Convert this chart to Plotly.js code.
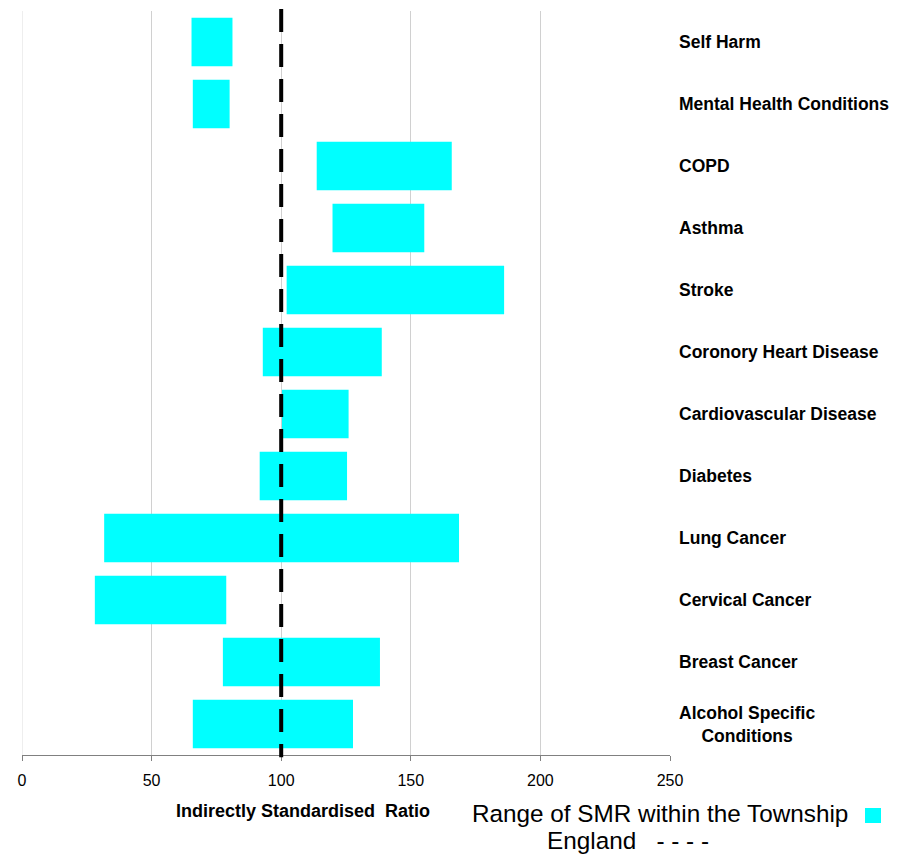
<!DOCTYPE html>
<html>
<head>
<meta charset="utf-8">
<script src="https://cdn.plot.ly/plotly-3.0.1.min.js"></script>
<style>html,body{margin:0;padding:0;background:#fff;}#chart{width:909px;height:854px;}</style>
</head>
<body>
<div id="chart"></div>
<script>
// Categories, top to bottom
var categories = [
  "Self Harm",
  "Mental Health Conditions",
  "COPD",
  "Asthma",
  "Stroke",
  "Coronory Heart Disease",
  "Cardiovascular Disease",
  "Diabetes",
  "Lung Cancer",
  "Cervical Cancer",
  "Breast Cancer",
  "Alcohol Specific<br>Conditions"
];
// Lowest and highest SMR within the Township
var smrLow  = [65.4, 65.9, 113.7, 119.8, 102.1, 92.9, 100.3, 91.7, 31.7, 28.1, 77.5, 65.9];
var smrHigh = [81.2, 80.1, 165.8, 155.2, 186.0, 138.8, 126.0, 125.4, 168.6, 78.8, 138.1, 127.7];
var englandValue = 100;
var xTickVals = [0, 50, 100, 150, 200, 250];
var xTitle = "Indirectly Standardised&nbsp; Ratio";
var legendBars = "Range of SMR within the Township";
var legendEngland = "England&nbsp;&nbsp; - - - -";

var FONT = "Liberation Sans, Arial, sans-serif";

var widths = smrHigh.map(function (h, i) { return h - smrLow[i]; });

var trace = {
  type: "bar",
  orientation: "h",
  y: categories,
  x: widths,
  base: smrLow,
  marker: { color: "#00FFFF", line: { width: 0 } },
  hoverinfo: "skip"
};

var annotations = categories.map(function (c) {
  return {
    xref: "paper", yref: "y",
    x: (677 - 22) / 648, y: c,
    xanchor: "left", yanchor: "middle",
    align: "center",
    text: "<b>" + c + "</b>",
    showarrow: false,
    font: { family: FONT, size: 17.5, color: "#000" }
  };
});

annotations.push({
  xref: "paper", yref: "paper",
  x: (303 - 22) / 648, y: (755 - 811) / 744,
  xanchor: "center", yanchor: "middle",
  text: "<b>" + xTitle + "</b>",
  showarrow: false,
  font: { family: FONT, size: 18, color: "#000" }
});
annotations.push({
  xref: "paper", yref: "paper",
  x: (470 - 22) / 648, y: (755 - 813) / 744,
  xanchor: "left", yanchor: "middle",
  text: legendBars,
  showarrow: false,
  font: { family: FONT, size: 24.3, color: "#000" }
});
annotations.push({
  xref: "paper", yref: "paper",
  x: (545 - 22) / 648, y: (755 - 841) / 744,
  xanchor: "left", yanchor: "middle",
  text: legendEngland,
  showarrow: false,
  font: { family: FONT, size: 24.3, color: "#000" }
});

var layout = {
  width: 909,
  height: 854,
  margin: { l: 22, r: 239, t: 11, b: 99, pad: 0 },
  paper_bgcolor: "#ffffff",
  plot_bgcolor: "#ffffff",
  showlegend: false,
  bargap: 0.215,
  xaxis: {
    range: [0, 250],
    tickvals: xTickVals,
    ticktext: xTickVals.map(String),
    showgrid: true,
    gridcolor: "#d0d0d0",
    gridwidth: 1,
    zeroline: true,
    zerolinecolor: "#eeeeee",
    zerolinewidth: 1,
    showline: true,
    linecolor: "#808080",
    linewidth: 1,
    ticks: "outside",
    ticklen: 5,
    tickcolor: "#808080",
    ticklabelstandoff: 6,
    tickfont: { family: FONT, size: 16, color: "#000" },
    fixedrange: true
  },
  yaxis: {
    type: "category",
    range: [categories.length - 0.5, -0.5],
    showticklabels: false,
    showgrid: false,
    zeroline: false,
    showline: false,
    ticks: "",
    fixedrange: true
  },
  shapes: [
    {
      type: "line", xref: "x", yref: "paper",
      x0: englandValue, x1: englandValue, y0: 1.0027, y1: -0.003,
      line: { color: "#000", width: 4, dash: "23px,12px" }
    },
    {
      type: "rect", xref: "paper", yref: "paper",
      x0: (865 - 22) / 648, x1: (881 - 22) / 648,
      y0: (755 - 823) / 744, y1: (755 - 808) / 744,
      fillcolor: "#00FFFF", line: { width: 0 }
    }
  ],
  annotations: annotations
};

Plotly.newPlot("chart", [trace], layout, { staticPlot: true, displayModeBar: false });
</script>
</body>
</html>
